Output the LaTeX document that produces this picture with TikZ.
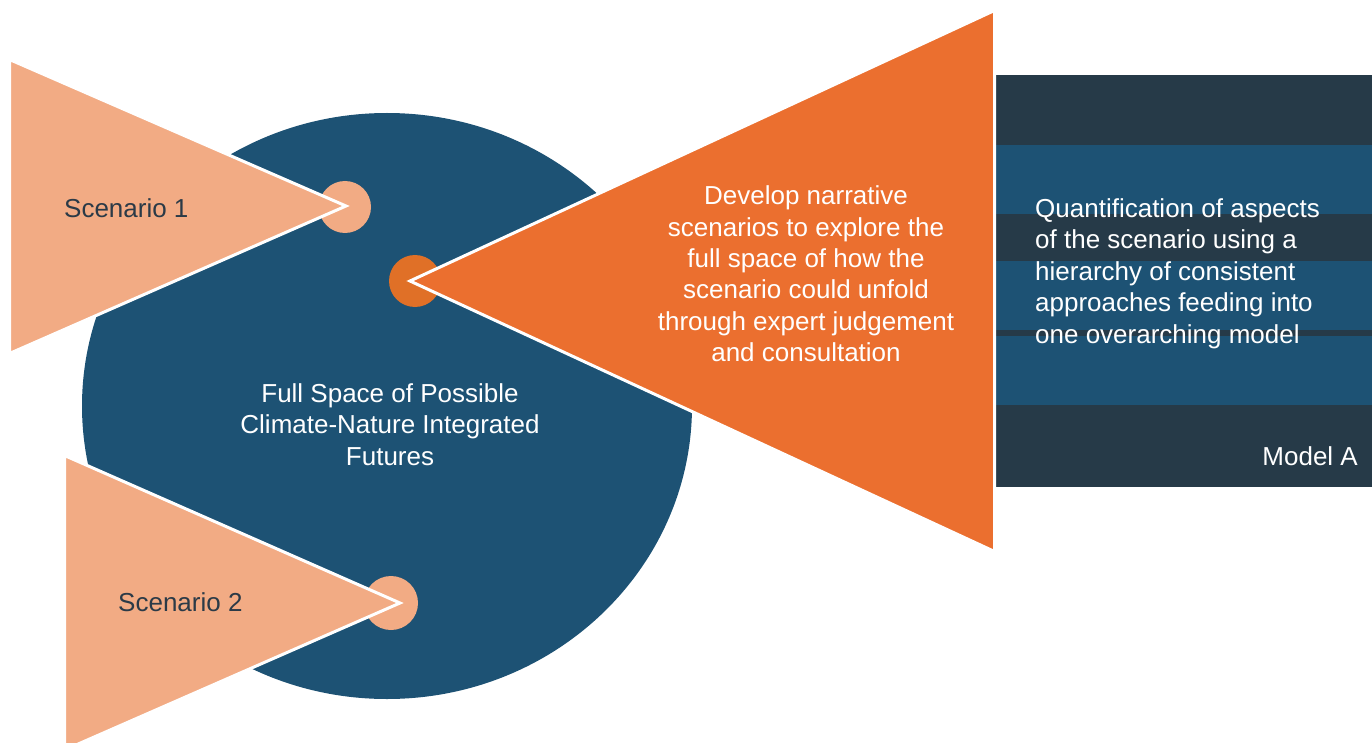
\documentclass[tikz,border=0pt]{standalone}
\usepackage{fontspec}
\setmainfont{Liberation Sans}
\definecolor{peach}{HTML}{F2AB84}
\definecolor{orangeT}{HTML}{EB6F2F}
\definecolor{orangeC}{HTML}{E07027}
\definecolor{deepblue}{HTML}{1D5274}
\definecolor{darkslate}{HTML}{263A48}
\definecolor{labeltext}{HTML}{2B3A47}
\tikzset{
  wedge/.style={draw=white, line width=3pt, line join=miter},
  txt/.style={inner sep=0pt, font=\fontsize{26}{31.4}\selectfont},
  whitetxt/.style={txt, text=white},
}
\begin{document}
\begin{tikzpicture}[x=1pt, y=-1pt]
\useasboundingbox (0,0) rectangle (1372,743);
\clip (0,0) rectangle (1372,743);
% right panel stripes
\fill[darkslate] (996,75) rectangle (1372,487);
\fill[deepblue] (996,145) rectangle (1372,214);
\fill[deepblue] (996,261) rectangle (1372,330);
\fill[deepblue] (996,336) rectangle (1372,405);
% big ellipse
\fill[deepblue] (387,406) ellipse [x radius=305, y radius=293];
% orange circle and triangle
\fill[orangeC] (415,281) circle (26);
\filldraw[fill=orangeT, wedge] (410,281) -- (994.5,10.5) -- (994.5,551.5) -- cycle;
% scenario 1
\fill[peach] (345,207) circle (26);
\filldraw[fill=peach, wedge] (346,206) -- (9.5,59.5) -- (9.5,353.5) -- cycle;
% scenario 2
\fill[peach] (391,603) circle (27);
\filldraw[fill=peach, wedge] (400,603) -- (64.5,455.5) -- (64.5,750) -- cycle;
% texts
\node[txt, text=labeltext, anchor=west] (s1) at (64,208) {Scenario 1};
\node[txt, text=labeltext, anchor=west] (s2) at (118,602) {Scenario 2};
\node[whitetxt, align=center] (full) at (390,424.5) {Full Space of Possible\\Climate-Nature Integrated\\Futures};
\node[whitetxt, align=center] (dev) at (806,274) {Develop narrative\\scenarios to explore the\\full space of how the\\scenario could unfold\\through expert judgement\\and consultation};
\node[whitetxt, align=left, anchor=west] (quant) at (1035,273.5) {Quantification of aspects\\of the scenario using a\\hierarchy of consistent\\approaches feeding into\\one overarching model};
\node[whitetxt, anchor=east] (model) at (1358,456) {Model A};
\end{tikzpicture}
\end{document}
